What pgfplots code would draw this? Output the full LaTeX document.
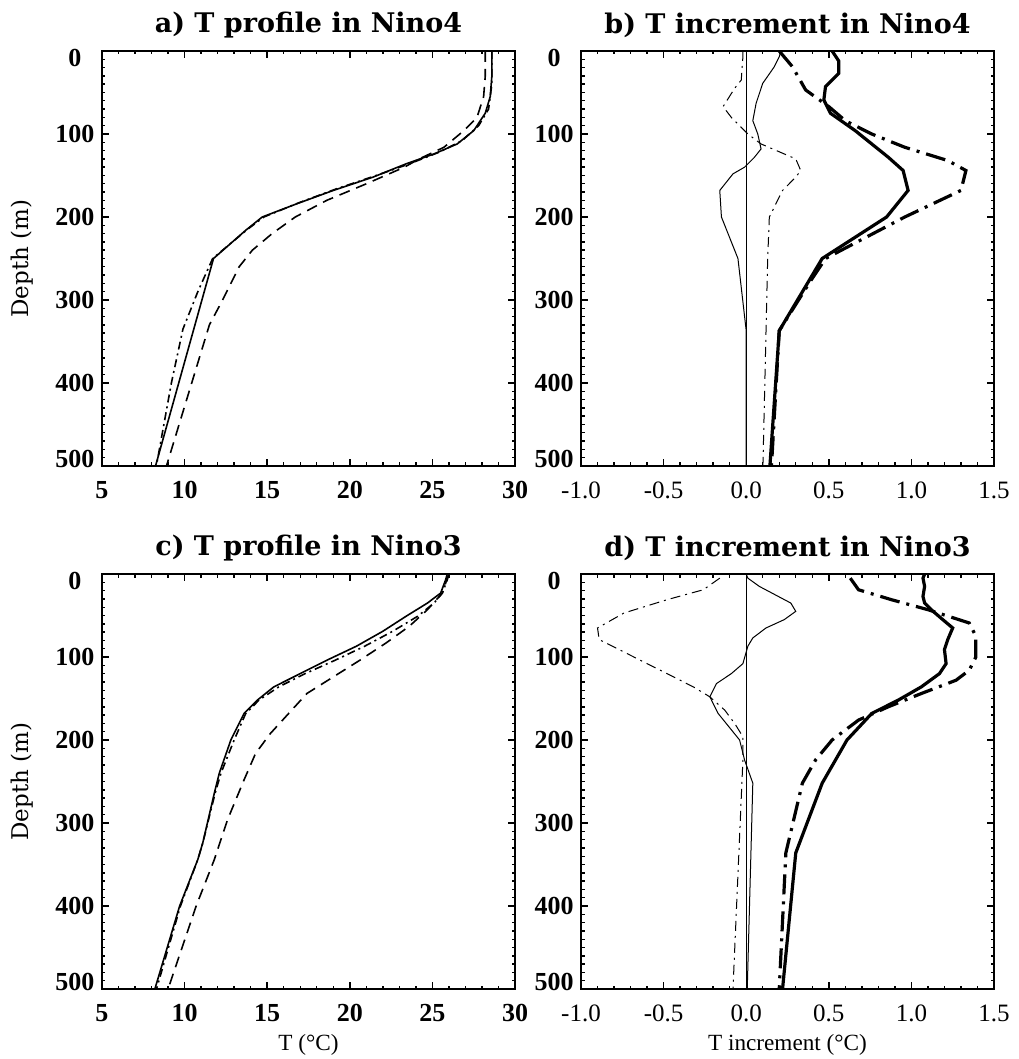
\documentclass[border=0pt]{standalone}
\usepackage{fontspec}
\setmainfont{Liberation Serif}
\newfontfamily\djv{DejaVu Serif}
\usepackage{pgfplots}
\pgfplotsset{compat=1.18}
\newcommand\lowered[1]{\raisebox{-3.5pt}[\height][\depth]{#1}}
\newcommand\raised[1]{\raisebox{3.5pt}[\height][\depth]{#1}}
\pgfplotsset{
 panel/.style={
   scale only axis, width=206.5pt, height=207.5pt, y dir=reverse,
   ymin=0, ymax=500, ytick={0,100,200,300,400,500},
   yticklabels={\lowered{0},100,200,300,400,\raised{500}},
   minor y tick num=9, minor x tick num=4,
   axis line style={line width=1pt},
   every tick/.style={line width=0.7pt, black},
   major tick length=3.5pt, minor tick length=1.75pt,
   tick align=inside, tick pos=both,
   yticklabel style={anchor=center, xshift=-13.5pt, font=\bfseries\fontsize{13}{15}\selectfont},
   title style={at={(axis description cs:0.5,1.0699)}, anchor=center, yshift=-7.5pt, font=\djv\bfseries\fontsize{13.5}{16}\selectfont},
   xlabel style={at={(axis description cs:0.5,-0.1349)}, anchor=center, font=\fontsize{11.6}{13}\selectfont},
   ylabel style={at={(axis description cs:-0.1937,0.5)}, anchor=center, font=\djv\fontsize{11.5}{13}\selectfont},
   every axis plot/.append style={black, no marks, sharp plot},
 },
 tpanel/.style={panel, xmin=5, xmax=30, xtick={5,10,15,20,25,30}, xticklabels={5,10,15,20,25,30},
   xticklabel style={anchor=center, yshift=-12pt, font=\bfseries\fontsize{13}{15}\selectfont}},
 ipanel/.style={panel, xmin=-1, xmax=1.5, xtick={-1,-0.5,0,0.5,1,1.5}, xticklabels={-1.0,-0.5,0.0,0.5,1.0,1.5},
   xticklabel style={anchor=center, yshift=-12pt, font=\fontsize{12.5}{14}\selectfont}},
 tsol/.style={line width=0.8pt},
 tdash/.style={line width=0.8pt, dash pattern=on 5.5pt off 3.5pt},
 tdd/.style={line width=0.8pt, dash pattern=on 4pt off 2pt on 1pt off 2pt},
 ksol/.style={line width=1.6pt},
 kdd/.style={line width=1.6pt, dash pattern=on 10pt off 3.5pt on 1.5pt off 3.5pt},
 nsol/.style={line width=0.5pt},
 ndd/.style={line width=0.5pt, dash pattern=on 5pt off 2.5pt on 1pt off 2.5pt},
}
\begin{document}
\begin{tikzpicture}
\useasboundingbox (0,0) rectangle (509pt,529.5pt);
% a
\begin{axis}[tpanel, at={(51pt,296.5pt)}, anchor=south west,
  title={a) T profile in Nino4}, ylabel={Depth (m)}]
\addplot[tsol] coordinates {(28.6,0)(28.6,30)(28.5,55)(28.2,75)(27.5,96)(26.5,112)(25.1,124)(23.4,136)(21.4,152)(19.0,168)(16.8,184)(14.7,200)(13.7,216)(11.75,250)(8.1,510)};
\addplot[tdd] coordinates {(28.6,0)(28.6,40)(28.4,70)(27.8,90)(26.8,108)(25.4,122)(23.6,136)(21.6,150)(19.2,166)(16.9,183)(14.8,200)(13.8,215)(11.7,250)(10.8,290)(9.9,335)(9.2,400)(8.2,510)};
\addplot[tdash] coordinates {(28.2,0)(28.2,30)(28.1,55)(27.7,80)(26.9,96)(25.7,116)(24.2,130)(23.3,140)(21,160)(18.6,180)(16.7,200)(15.3,220)(14.1,240)(13.3,260)(12.3,300)(11.5,330)(8.75,510)};
\end{axis}
% b
\begin{axis}[ipanel, at={(290.5pt,296.5pt)}, anchor=south west,
  title={b) T increment in Nino4}]
\addplot[nsol] coordinates {(0,0)(0,510)};
\addplot[ksol] coordinates {(0.52,0)(0.56,12)(0.56,27)(0.48,43)(0.47,59)(0.51,75)(0.66,96)(0.86,128)(0.95,144)(0.98,168)(0.85,200)(0.46,250)(0.20,337)(0.14,510)};
\addplot[kdd] coordinates {(0.20,0)(0.28,19)(0.36,47)(0.50,67)(0.60,84)(0.76,100)(0.96,116)(1.22,132)(1.33,144)(1.30,168)(0.96,200)(0.48,250)(0.38,280)(0.20,337)(0.15,510)};
\addplot[nsol] coordinates {(0.21,0)(0.20,7)(0.17,19)(0.10,39)(0.06,63)(0.04,84)(0.07,100)(0.09,118)(0.05,128)(-0.01,140)(-0.08,148)(-0.16,168)(-0.15,200)(-0.05,250)(0.0,337)(0.0,510)};
\addplot[ndd] coordinates {(-0.02,0)(-0.02,7)(-0.03,35)(-0.07,45)(-0.14,67)(-0.09,80)(0.01,100)(0.09,112)(0.30,130)(0.33,144)(0.30,152)(0.22,168)(0.14,200)(0.13,250)(0.12,337)(0.10,510)};
\end{axis}
% c
\begin{axis}[tpanel, at={(51pt,35pt)}, anchor=south west,
  title={c) T profile in Nino3}, ylabel={Depth (m)}, xlabel={T (\textdegree C)}]
\addplot[tsol] coordinates {(25.9,0)(25.8,7)(25.5,23)(24.7,35)(23.4,51)(22.0,69)(20.4,87)(18.6,104)(17.0,120)(15.4,136)(14.4,152)(13.6,168)(12.8,200)(12.1,240)(11.8,264)(11.1,324)(10.8,344)(9.7,400)(8.2,500)(8.05,510)};
\addplot[tdd] coordinates {(26.0,0)(25.9,7)(25.6,23)(25.1,35)(24.1,51)(22.6,69)(20.9,87)(19.1,104)(17.3,120)(15.7,136)(14.5,152)(13.7,168)(13.0,200)(12.2,240)(11.85,264)(11.1,324)(10.8,344)(9.75,400)(8.3,500)(8.15,510)};
\addplot[tdash] coordinates {(26.0,0)(25.9,5)(25.6,23)(24.7,43)(23.6,63)(22.2,83)(20.6,104)(19.0,124)(17.4,144)(16.3,168)(15.2,192)(14.3,216)(13.6,248)(12.6,296)(11.8,344)(10.7,400)(9.0,500)(8.85,510)};
\end{axis}
% d
\begin{axis}[ipanel, at={(290.5pt,35pt)}, anchor=south west,
  title={d) T increment in Nino3}, xlabel={T increment (\textdegree C)}]
\addplot[nsol] coordinates {(0,0)(0,510)};
\addplot[ksol] coordinates {(1.08,0)(1.07,5)(1.08,15)(1.07,27)(1.08,35)(1.12,43)(1.19,55)(1.25,65)(1.22,79)(1.20,91)(1.21,108)(1.17,120)(1.06,136)(0.92,152)(0.76,168)(0.61,200)(0.46,252)(0.30,336)(0.22,500)(0.215,510)};
\addplot[kdd] coordinates {(0.63,5)(0.68,19)(0.88,31)(1.10,43)(1.35,59)(1.39,75)(1.39,100)(1.35,116)(1.27,128)(1.06,144)(0.86,160)(0.68,176)(0.52,200)(0.42,224)(0.34,252)(0.24,336)(0.20,500)(0.195,510)};
\addplot[nsol] coordinates {(0.0,0)(0.01,5)(0.08,15)(0.27,35)(0.30,45)(0.23,55)(0.12,65)(0.04,77)(0.01,87)(-0.02,108)(-0.09,120)(-0.18,132)(-0.22,148)(-0.17,168)(-0.04,200)(-0.01,224)(0.04,252)(0.005,510)};
\addplot[ndd] coordinates {(-0.16,5)(-0.26,19)(-0.48,31)(-0.74,47)(-0.90,65)(-0.89,79)(-0.68,100)(-0.48,120)(-0.32,136)(-0.22,148)(-0.13,164)(-0.07,180)(-0.02,196)(-0.02,224)(-0.08,500)(-0.08,510)};
\end{axis}
\end{tikzpicture}
\end{document}
